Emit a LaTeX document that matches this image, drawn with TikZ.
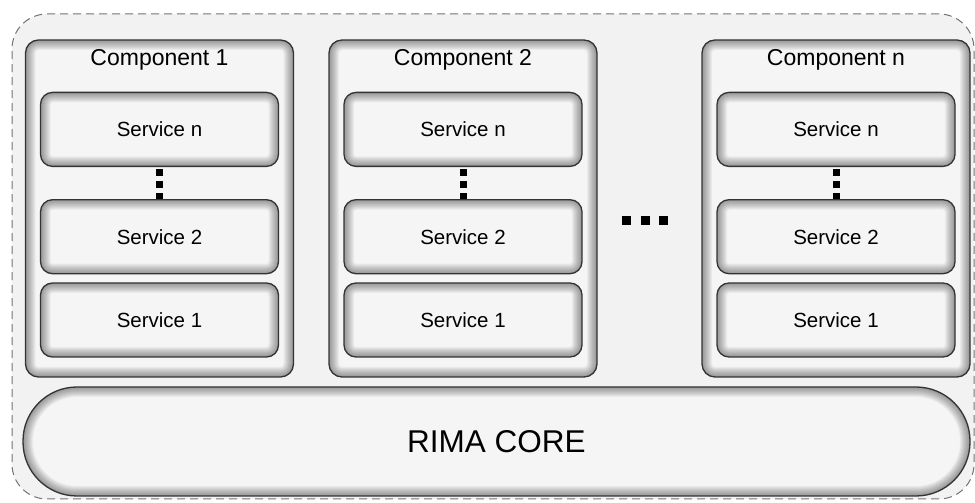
\documentclass[tikz,border=0pt]{standalone}
\usepackage{fontspec}
\setmainfont{Liberation Sans}
\usepackage{tikz}
\usetikzlibrary{calc,positioning}
\tikzset{
  glow/.style={path picture={
    \foreach \w in {2,4,...,20}
      \draw[line width=\w pt, black, opacity=0.045, rounded corners=#1]
      (path picture bounding box.south west) rectangle
      (path picture bounding box.north east);
  }},
  outer/.style={draw=black!55, line width=1pt, dash pattern=on 8pt off 5pt,
  fill=black!5, rounded corners=35pt, inner sep=0pt},
  comp/.style={draw=black!80, line width=1.3pt, fill=black!4, inner sep=0pt,
  rounded corners=13pt, minimum width=268pt, minimum height=337pt, glow=13pt},
  svc/.style={draw=black!80, line width=1.3pt, fill=black!4, rounded 
  corners=12pt, minimum width=238pt, minimum height=74pt, glow=12pt,
  font=\fontsize{20.5}{24}\selectfont},
  core/.style={draw=black!80, line width=1.3pt, fill=black!4, rounded
  corners=54pt, minimum width=947pt, minimum height=109pt, glow=54pt,
  font=\fontsize{31.5}{36}\selectfont},
  title/.style={font=\fontsize{23}{26}\selectfont, inner sep=0pt},
  vdots/.style={line width=7pt, dash pattern=on 7pt off 5pt, dash phase=-2pt},
  hdots/.style={line width=9pt, dash pattern=on 9pt off 9.5pt}
}
\begin{document}
\begin{tikzpicture}
    \useasboundingbox (0,0) rectangle (975pt,503pt);
    \node (frame) [outer,minimum width=962pt,minimum height=485pt] at 
    (493pt,246.5pt) {};
    \node (c1) [comp] at (159.5pt,294.5pt) {};
    \node (c2) [comp] at (463pt,294.5pt) {};
    \node (cn) [comp] at (836pt,294.5pt) {};
    \node (t1) [title,anchor=base] at ($(c1.north)+(0,-26pt)$) {Component 1};
    \node (t2) [title,anchor=base] at ($(c2.north)+(0,-26pt)$) {Component 2};
    \node (tn) [title,anchor=base] at ($(cn.north)+(0,-26pt)$) {Component n};
    \node (s11) [svc,anchor=south] at ($(c1.south)+(0,20pt)$) {Service 1};
    \node (s12) [svc,above=8pt of s11] {Service 2};
    \node (s1n) [svc,above=32pt of s12] {Service n};
    \node (s21) [svc,anchor=south] at ($(c2.south)+(0,20pt)$) {Service 1};
    \node (s22) [svc,above=8pt of s21] {Service 2};
    \node (s2n) [svc,above=32pt of s22] {Service n};
    \node (sn1) [svc,anchor=south] at ($(cn.south)+(0,20pt)$) {Service 1};
    \node (sn2) [svc,above=8pt of sn1] {Service 2};
    \node (snn) [svc,above=32pt of sn2] {Service n};
    \draw[vdots] (s1n.south) -- (s12.north);
    \draw[vdots] (s2n.south) -- (s22.north);
    \draw[vdots] (snn.south) -- (sn2.north);
    \coordinate (e1) at (622pt,282.5pt);
    \coordinate (e2) at (668pt,282.5pt);
    \draw[hdots] (e1) -- (e2);
    \node (core) [core] at (496.5pt,61.5pt) {RIMA CORE};
\end{tikzpicture}
\end{document}
